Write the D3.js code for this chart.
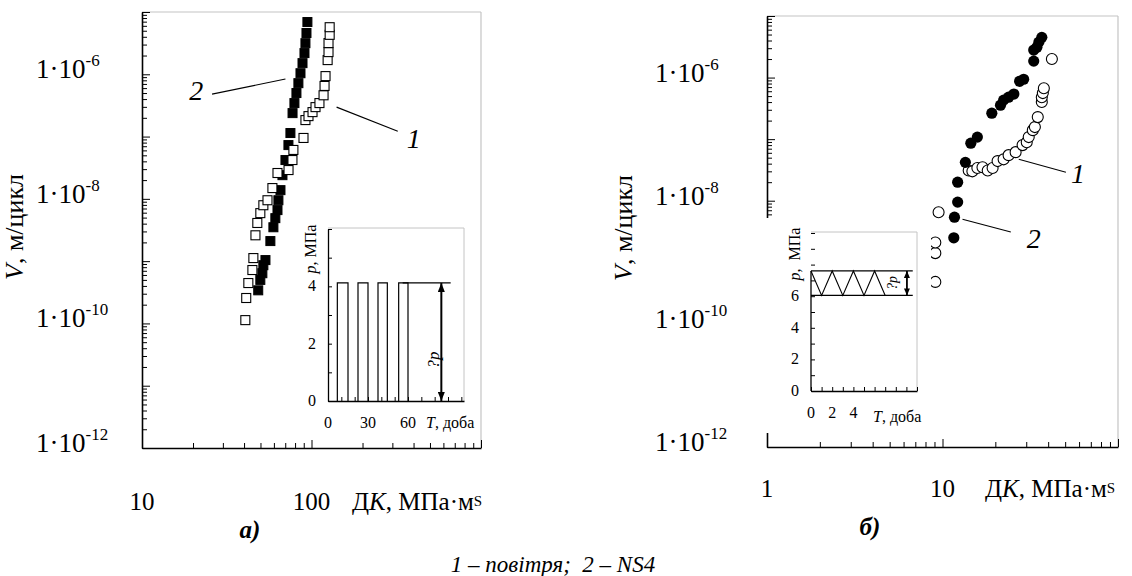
<!DOCTYPE html>
<html><head><meta charset="utf-8">
<script src="https://cdn.jsdelivr.net/npm/d3@7"></script>
<style>
body{margin:0;background:#fff}
svg{display:block}
svg text{fill:#000;white-space:pre}
</style>
</head><body>
<svg id="c" width="1132" height="576" font-family="'Liberation Serif','DejaVu Serif','Times New Roman',serif"></svg>
<script>
// ---------------- DATA ----------------
// Panel а) : V (m/cycle) vs ΔK (MPa·m^0.5)
const aAirK = [40.7, 41.2, 42.4, 44.8, 45.4, 46.7, 47.9, 49.9, 52, 55, 58.8, 63, 73.2, 78.2, 77.2, 89.7, 92.1, 96, 101.4, 105.6, 111.4, 117.8, 119.4, 121, 124.5, 126, 126, 128, 128];
const aAirV = [1.13e-10, 2.56e-10, 4.45e-10, 7.2e-10, 1.12e-9, 2.6e-9, 4.1e-9, 5.9e-9, 7.9e-9, 9.5e-9, 1.49e-8, 2.6e-8, 2.9e-8, 6.1e-8, 4.2e-8, 9.5e-8, 1.84e-7, 2.13e-7, 2.47e-7, 2.97e-7, 3.45e-7, 4.6e-7, 6.5e-7, 9.35e-7, 1.69e-6, 2.27e-6, 3.17e-6, 4.3e-6, 5.7e-6];
const aNsK = [48.5, 49.9, 51.3, 52, 53.5, 57.2, 59.6, 61.2, 63, 63.8, 65.6, 67.4, 70.2, 73.1, 75.1, 77.3, 79.3, 81.5, 83.7, 86.1, 88.5, 90.9, 92.1, 93.4, 94.6];
const aNsV = [3.4e-10, 5.0e-10, 6.4e-10, 8.6e-10, 1.04e-9, 2.1e-9, 3.5e-9, 4.9e-9, 6.6e-9, 9.5e-9, 1.38e-8, 2.4e-8, 4.2e-8, 7.3e-8, 1.14e-7, 2.38e-7, 3.45e-7, 5.0e-7, 7.2e-7, 1.04e-6, 1.51e-6, 2.19e-6, 3.16e-6, 4.6e-6, 6.9e-6];
// Panel б)
const bAirK = [9.1, 9.1, 9.1, 9.5, 14.1, 14.8, 15.8, 16.9, 18.1, 19.3, 20.6, 22.3, 23.8, 26.1, 28.6, 30.2, 31.0, 32.7, 33.6, 34.9, 36.8, 36.8, 37.3, 37.8, 42];
const bAirV = [4.8e-10, 1.41e-9, 2.1e-9, 6.5e-9, 3.1e-8, 3.0e-8, 3.4e-8, 3.5e-8, 3.1e-8, 3.4e-8, 4.4e-8, 4.7e-8, 5.5e-8, 6.15e-8, 8.0e-8, 8.9e-8, 1.08e-7, 1.4e-7, 1.57e-7, 2.28e-7, 4.0e-7, 4.8e-7, 5.6e-7, 6.7e-7, 2.0e-6];
const bNsK = [11.6, 11.7, 12.2, 12.2, 13.5, 14.5, 15.8, 19.1, 21.4, 22.3, 23.8, 25.5, 27.5, 29.0, 33.1, 33.1, 34.5, 35.4, 36.8];
const bNsV = [2.5e-9, 5.4e-9, 9.5e-9, 2.0e-8, 4.2e-8, 8.6e-8, 1.08e-7, 2.64e-7, 3.56e-7, 4.3e-7, 4.8e-7, 5.4e-7, 8.7e-7, 9.4e-7, 1.85e-6, 2.8e-6, 3.1e-6, 3.76e-6, 4.5e-6];

// axis decades / tick labels
const yExpRange = [-12, -5];
const yLabelExps = [-6, -8, -10, -12];
const aXExpRange = [1, 3];
const aXLabels = [10, 100];
const bXExpRange = [0, 2];
const bXLabels = [1, 10];

// curve annotations: [label, labelK, labelV, lineK0, lineV0, lineK1, lineV1]
const aNotes = [["2", 20.9, 3.86e-7, 25.9, 4.8e-7, 70.2, 8.4e-7], ["1", 401, 6.5e-8, 140.6, 2.97e-7, 322.8, 1.22e-7]];
const bNotes = [["1", 59.1, 1.93e-8, 27.2, 4.7e-8, 50.5, 2.9e-8], ["2", 33.1, 1.7e-9, 13.0, 5.0e-9, 24.5, 3.1e-9]];

// inset а): pressure pulses p(T)
const insAPulses = [[7, 15], [22.5, 30], [37.5, 44.5], [53, 60]];
const insAPulseP = 4.12;
const insARefLine = [56, 92];
const insAArrowT = 85;
const insAXTicks = [0, 30, 60];
const insAYTicks = [0, 2, 4];
// inset б): cyclic pressure
const insBWaveT = [0, 1, 2, 3, 4, 5, 6, 7];
const insBWaveP = [7.6, 6.05, 7.6, 6.05, 7.6, 6.05, 7.6, 6.05];
const insBBand = [6.05, 7.6];
const insBBandT = [0, 9.6];
const insBArrowT = 9.05;
const insBXTicks = [0, 2, 4];
const insBYTicks = [0, 2, 4, 6];

// ---------------- DRAW ----------------
const svg = d3.select("#c");
const ital = s => `<tspan font-style="italic">${s}</tspan>`;

function ticksOf(r) {
  const minor = [], major = [];
  for (let e = r[0]; e <= r[1]; e++) {
    major.push(+("1e" + e));
    if (e < r[1]) for (let k = 2; k <= 9; k++) minor.push(+(k + "e" + e));
  }
  return {minor, major};
}

function frame(x, y, xr, yr) {
  const g = svg.append("g");
  const [X0, X1] = x.range(), [Y0, Y1] = y.range();
  g.append("line").attr("x1", X0).attr("x2", X1).attr("y1", Y1).attr("y2", Y1).attr("stroke", "#c4c4c4").attr("stroke-width", 1.2);
  g.append("line").attr("x1", X1).attr("x2", X1).attr("y1", Y1).attr("y2", Y0).attr("stroke", "#c4c4c4").attr("stroke-width", 1.2);
  const tx = ticksOf(xr), ty = ticksOf(yr);
  const ax = g.append("g").attr("transform", `translate(0,${Y0})`);
  ax.append("g").call(d3.axisBottom(x).tickValues(tx.minor).tickSize(-5).tickSizeOuter(0).tickFormat(""));
  ax.append("g").call(d3.axisBottom(x).tickValues(tx.major).tickSize(-8).tickSizeOuter(0).tickFormat("")).select(".domain").remove();
  const ay = g.append("g").attr("transform", `translate(${X0},0)`);
  ay.append("g").call(d3.axisLeft(y).tickValues(ty.minor).tickSize(-5).tickSizeOuter(0).tickFormat(""));
  ay.append("g").call(d3.axisLeft(y).tickValues(ty.major).tickSize(-8).tickSizeOuter(0).tickFormat("")).select(".domain").remove();
  g.selectAll(".domain").attr("stroke-width", 1.6);
  g.selectAll(".tick line").attr("stroke-width", 1);
  return g;
}

function yLabels(y, lx) {
  svg.append("g").selectAll("text").data(yLabelExps).join("text")
    .attr("x", lx).attr("y", e => y(+("1e" + e)) + 4)
    .attr("font-size", 27)
    .html(e => `1·10<tspan font-size="17" dy="-12">${e}</tspan>`);
}
function xLabels(x, vals, by) {
  svg.append("g").selectAll("text").data(vals).join("text")
    .attr("x", v => x(v)).attr("y", by).attr("text-anchor", "middle")
    .attr("font-size", 25).text(v => v);
}
function xTitle(tx, by) {
  svg.append("text").attr("x", tx).attr("y", by).attr("font-size", 25)
    .html(`Д${ital("K")}, МПа·м<tspan font-size="15" dy="-4">S</tspan>`);
}
function yTitle(cx, cy) {
  svg.append("text").attr("transform", `translate(${cx},${cy}) rotate(-90)`)
    .attr("text-anchor", "middle").attr("font-size", 26)
    .html(`${ital("V")}, м/цикл`);
}
function notes(x, y, list) {
  const g = svg.append("g");
  list.forEach(n => {
    g.append("line").attr("x1", x(n[3])).attr("y1", y(n[4])).attr("x2", x(n[5])).attr("y2", y(n[6]))
      .attr("stroke", "#000").attr("stroke-width", 1.1);
    g.append("text").attr("x", x(n[1])).attr("y", y(n[2])).attr("text-anchor", "middle")
      .attr("font-size", 28).attr("font-style", "italic").text(n[0]);
  });
}

// ---- Panel а)
const xA = d3.scaleLog().domain([10, 1000]).range([142, 481]);
const yA = d3.scaleLog().domain([1e-12, 1e-5]).range([448, 12]);
frame(xA, yA, aXExpRange, yExpRange);
yLabels(yA, 36);
xLabels(xA, aXLabels, 510);
xTitle(352, 510);
yTitle(23, 227);

const SQ = 9;
svg.append("g").selectAll("rect").data(aNsK.map((k, i) => [k, aNsV[i]])).join("rect")
  .attr("x", d => xA(d[0]) - SQ / 2).attr("y", d => yA(d[1]) - SQ / 2)
  .attr("width", SQ).attr("height", SQ).attr("fill", "#000").attr("stroke", "#000").attr("stroke-width", 1);
svg.append("g").selectAll("rect").data(aAirK.map((k, i) => [k, aAirV[i]])).join("rect")
  .attr("x", d => xA(d[0]) - SQ / 2).attr("y", d => yA(d[1]) - SQ / 2)
  .attr("width", SQ).attr("height", SQ).attr("fill", "#fff").attr("stroke", "#000").attr("stroke-width", 1.1);
notes(xA, yA, aNotes);

// ---- Panel б)
const xB = d3.scaleLog().domain([1, 100]).range([767, 1118]);
const yB = d3.scaleLog().domain([1e-12, 1e-5]).range([447, 16]);
frame(xB, yB, bXExpRange, yExpRange);
yLabels(yB, 655);
xLabels(xB, bXLabels, 497);
xTitle(985, 497);
yTitle(632, 228);

svg.append("g").selectAll("circle").data(bAirK.map((k, i) => [k, bAirV[i]])).join("circle")
  .attr("cx", d => xB(d[0])).attr("cy", d => yB(d[1])).attr("r", 5.5)
  .attr("fill", "#fff").attr("stroke", "#000").attr("stroke-width", 1.1);
svg.append("g").selectAll("circle").data(bNsK.map((k, i) => [k, bNsV[i]])).join("circle")
  .attr("cx", d => xB(d[0])).attr("cy", d => yB(d[1])).attr("r", 5.6)
  .attr("fill", "#000");
notes(xB, yB, bNotes);

// ---- arrow markers
const defs = svg.append("defs");
[["arrA", 9, 7], ["arrB", 7, 6]].forEach(([id, L, W]) => {
  defs.append("marker").attr("id", id).attr("viewBox", `0 0 ${L} ${W}`)
    .attr("refX", L).attr("refY", W / 2).attr("markerWidth", L).attr("markerHeight", W)
    .attr("markerUnits", "userSpaceOnUse").attr("orient", "auto-start-reverse")
    .append("path").attr("d", `M0,0L${L},${W / 2}L0,${W}Z`).attr("fill", "#000");
});

function insetFrame(x, y, xTicks, yTicks, tickStep, labelFs, yAxisTop) {
  const g = svg.append("g");
  const [X0, X1] = x.range(), [Y0, Y1] = y.range();
  g.append("line").attr("x1", X0).attr("x2", X1).attr("y1", Y1 - 1).attr("y2", Y1 - 1).attr("stroke", "#c4c4c4");
  g.append("line").attr("x1", X1).attr("x2", X1).attr("y1", Y1 - 1).attr("y2", Y0).attr("stroke", "#c4c4c4");
  const xt = d3.range(x.domain()[0], x.domain()[1] + 0.001, tickStep[0]);
  const yt = d3.range(y.domain()[0], y.domain()[1] + 0.001, tickStep[1]);
  g.append("g").attr("transform", `translate(0,${Y0})`)
    .call(d3.axisBottom(x).tickValues(xt).tickSize(-4).tickSizeOuter(0).tickFormat(""));
  const ay = g.append("g").attr("transform", `translate(${X0},0)`)
    .call(d3.axisLeft(y).tickValues(yt).tickSize(-4).tickSizeOuter(0).tickFormat(""));
  if (yAxisTop != null) ay.select(".domain").attr("d", `M0,${Y0}V${y(yAxisTop)}`);
  g.selectAll(".domain").attr("stroke-width", 1.3);
  g.selectAll(".tick line").attr("stroke-width", 1);
  g.append("g").selectAll("text").data(xTicks).join("text")
    .attr("x", d => x(d)).attr("y", Y0 + 27).attr("text-anchor", "middle").attr("font-size", labelFs).text(d => d);
  g.append("g").selectAll("text").data(yTicks).join("text")
    .attr("x", X0 - 16).attr("y", d => y(d) + 5).attr("text-anchor", "middle").attr("font-size", labelFs).text(d => d);
  return g;
}

// ---- Inset а)
const xIA = d3.scaleLinear().domain([0, 102]).range([328, 464]);
const yIA = d3.scaleLinear().domain([0, 6]).range([401, 229]);
svg.append("rect").attr("x", 328).attr("y", 228).attr("width", 136).attr("height", 173).attr("fill", "#fff");
const gA = insetFrame(xIA, yIA, insAXTicks, insAYTicks, [10, 1], 16, null);
const pulsePath = d3.path();
insAPulses.forEach(([t0, t1]) => {
  pulsePath.moveTo(xIA(t0), yIA(0)); pulsePath.lineTo(xIA(t0), yIA(insAPulseP));
  pulsePath.lineTo(xIA(t1), yIA(insAPulseP)); pulsePath.lineTo(xIA(t1), yIA(0));
});
gA.append("path").attr("d", pulsePath.toString()).attr("fill", "none").attr("stroke", "#000").attr("stroke-width", 1.2);
gA.append("line").attr("x1", xIA(insARefLine[0])).attr("x2", xIA(insARefLine[1]))
  .attr("y1", yIA(insAPulseP)).attr("y2", yIA(insAPulseP)).attr("stroke", "#000").attr("stroke-width", 1.2);
gA.append("line").attr("x1", xIA(insAArrowT)).attr("x2", xIA(insAArrowT))
  .attr("y1", yIA(0)).attr("y2", yIA(insAPulseP)).attr("stroke", "#000").attr("stroke-width", 2)
  .attr("marker-start", "url(#arrA)").attr("marker-end", "url(#arrA)");
gA.append("text").attr("transform", `translate(${xIA(79.5) + 5},${yIA(1.43)}) rotate(-90)`)
  .attr("text-anchor", "middle").attr("font-size", 17).attr("font-style", "italic").text("?p");
gA.append("text").attr("transform", `translate(${316},${249}) rotate(-90)`)
  .attr("text-anchor", "middle").attr("font-size", 16).html(`${ital("p")}, МПа`);
gA.append("text").attr("x", 426).attr("y", 428).attr("font-size", 16).html(`${ital("T")}, доба`);

// ---- Inset б) (its white background hides part of the main plot)
const xIB = d3.scaleLinear().domain([0, 10]).range([811, 917]);
const yIB = d3.scaleLinear().domain([0, 10]).range([391, 233]);
svg.append("rect").attr("x", 760).attr("y", 218).attr("width", 171).attr("height", 215).attr("fill", "#fff");
const gB = insetFrame(xIB, yIB, insBXTicks, insBYTicks, [1, 1], 16, insBBand[1]);
insBBand.forEach(p => gB.append("line").attr("x1", xIB(insBBandT[0])).attr("x2", xIB(insBBandT[1]))
  .attr("y1", yIB(p)).attr("y2", yIB(p)).attr("stroke", "#000").attr("stroke-width", 1.2));
gB.append("path").attr("d", d3.line().x(d => xIB(d[0])).y(d => yIB(d[1]))(insBWaveT.map((t, i) => [t, insBWaveP[i]])))
  .attr("fill", "none").attr("stroke", "#000").attr("stroke-width", 1.1);
gB.append("line").attr("x1", xIB(insBArrowT)).attr("x2", xIB(insBArrowT))
  .attr("y1", yIB(insBBand[0])).attr("y2", yIB(insBBand[1])).attr("stroke", "#000").attr("stroke-width", 1.8)
  .attr("marker-start", "url(#arrB)").attr("marker-end", "url(#arrB)");
gB.append("text").attr("transform", `translate(${xIB(7.64) + 5},${yIB(6.84)}) rotate(-90)`)
  .attr("text-anchor", "middle").attr("font-size", 14).attr("font-style", "italic").text("?p");
gB.append("text").attr("transform", `translate(${800},${254}) rotate(-90)`)
  .attr("text-anchor", "middle").attr("font-size", 16).html(`${ital("p")},  МПа`);
gB.append("text").attr("x", 873).attr("y", 422).attr("font-size", 16).html(`${ital("T")}, доба`);

// ---- panel letters & caption
svg.append("text").attr("x", 250).attr("y", 538).attr("text-anchor", "middle").attr("font-size", 25)
  .attr("font-weight", "bold").attr("font-style", "italic").text("а)");
svg.append("text").attr("x", 870).attr("y", 535).attr("text-anchor", "middle").attr("font-size", 25)
  .attr("font-weight", "bold").attr("font-style", "italic").text("б)");
svg.append("text").attr("x", 553).attr("y", 572).attr("text-anchor", "middle").attr("font-size", 23)
  .attr("font-style", "italic").text("1 – повітря;  2 – NS4");
</script>
</body></html>
